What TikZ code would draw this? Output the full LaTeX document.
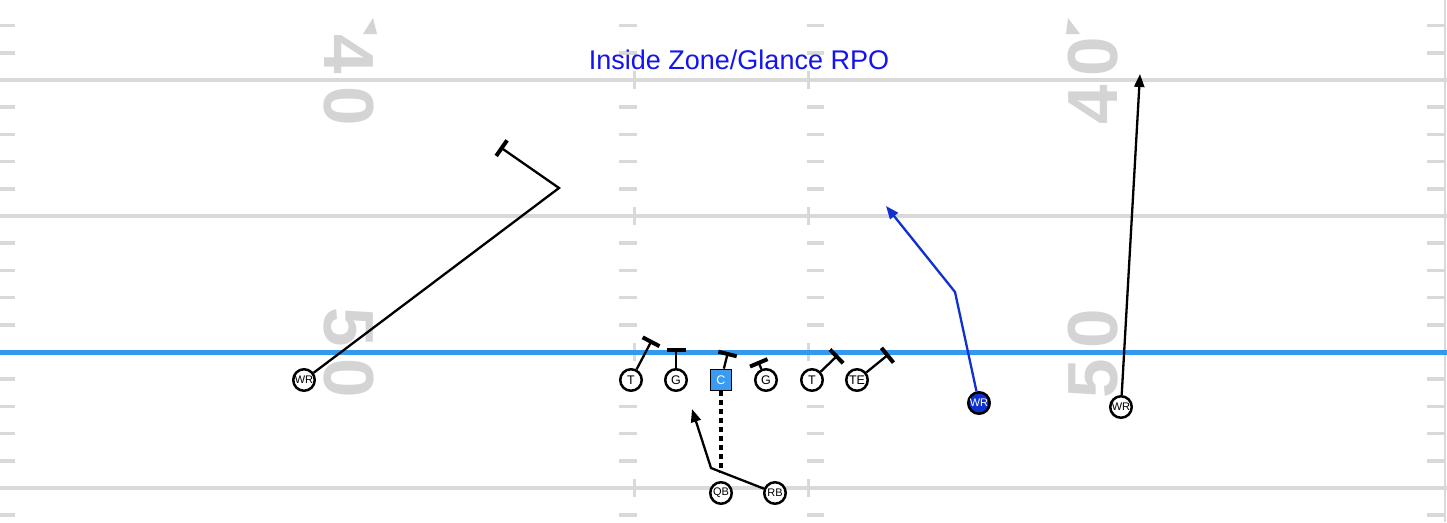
\documentclass[tikz,border=0pt]{standalone}
\usepackage{fontspec}
\setmainfont{Liberation Sans}
\usetikzlibrary{arrows.meta}

\definecolor{fieldgray}{HTML}{D9D9D9}
\definecolor{numgray}{HTML}{D4D4D4}
\definecolor{losblue}{HTML}{3399EE}
\definecolor{centerblue}{HTML}{3A9BF0}
\definecolor{routeblue}{HTML}{1030D0}
\definecolor{titleblue}{HTML}{1414F0}

\begin{document}
\begin{tikzpicture}[x=1pt, y=-1pt, >={Triangle[length=13pt,width=10pt]},
    player/.style={circle, draw, line width=2.5pt, fill=white, minimum size=21.5pt, inner sep=0pt, font=\fontsize{12.5}{12.5}\selectfont},
    wr/.style={player, font=\fontsize{11}{11}\selectfont},
    snapper/.style={rectangle, draw, line width=1.8pt, fill=centerblue, text=white, minimum size=21pt, inner sep=0pt, font=\fontsize{12.5}{12.5}\selectfont},
    route/.style={line width=2.3pt},
    block/.style={line width=2.3pt, -{Bar[width=19pt,line width=4pt]}},
    hash/.style={fieldgray, line width=3.5pt},
    yardline/.style={fieldgray, line width=3.5pt},
    yardnum/.style={text=numgray, font=\fontsize{71}{71}\selectfont\bfseries, inner sep=0pt}]

    \useasboundingbox (0,0) rectangle (1447,522);
    \fill[white] (0,0) rectangle (1447,522);

    %define the field
    \foreach \k in {0,...,19}{
        \pgfmathtruncatemacro\r{mod(\k,5)}
        \ifnum\r=3\else
            \draw[hash] (0,{-1.6+27.2*\k}) -- ++(15,0);
            \draw[hash] (1427,{-1.6+27.2*\k}) -- ++(18,0);
            \draw[hash] (619,{-1.6+27.2*\k}) -- ++(18,0);
            \draw[hash] (807,{-1.6+27.2*\k}) -- ++(17,0);
        \fi
    }
    \foreach \yl in {80,216,352,488}{
        \draw[yardline] (0,\yl) -- (1447,\yl);
        \draw[fieldgray, line width=3pt] (634,\yl-9) -- (634,\yl+9);
        \draw[fieldgray, line width=3pt] (808,\yl-9) -- (808,\yl+9);
    }
    \draw[fieldgray, line width=2pt] (1445,0) -- (1445,522);
    \draw[losblue, line width=5pt] (0,352) -- (1447,352);

    %define the yard numbers
    \node[yardnum, rotate=-90] (l4) at (349,54) {4};
    \node[yardnum, rotate=-90] (l40) at (349,106) {0};
    \node[yardnum, rotate=-90] (l5) at (349,327) {5};
    \node[yardnum, rotate=-90] (l50) at (349,378) {0};
    \node[yardnum, rotate=90] (r40) at (1093,57) {0};
    \node[yardnum, rotate=90] (r4) at (1093,105) {4};
    \node[yardnum, rotate=90] (r50) at (1093,329) {0};
    \node[yardnum, rotate=90] (r5) at (1093,379) {5};
    \fill[numgray] (373,18) -- (363,34) -- (377,34) -- cycle;
    \fill[numgray] (1068,18) -- (1066,34) -- (1080,34) -- cycle;

    \node[text=titleblue, font=\fontsize{27}{29}\selectfont] (title) at (739,60) {Inside Zone/Glance RPO};

    %define the players
    \node[player] (lt) at (631,380) {T};
    \node[player] (lg) at (676,380) {G};
    \node[snapper] (c) at (721,380) {C};
    \node[player] (rg) at (766,380) {G};
    \node[player] (rt) at (812,380) {T};
    \node[player] (te) at (857,380) {TE};
    \node[wr] (qb) at (721,493) {QB};
    \node[wr] (rb) at (775,493) {RB};
    \node[wr] (wrl) at (304,380) {WR};
    \node[wr, fill=routeblue, text=white] (wrs) at (979,403) {WR};
    \node[wr] (wrr) at (1121,407) {WR};

    %define the blocks
    \coordinate (blt) at (652,340);
    \coordinate (blg) at (676,348);
    \coordinate (bc) at (728,352);
    \coordinate (brg) at (758,361);
    \coordinate (brt) at (838,355);
    \coordinate (bte) at (889,354);
    \draw[block] (lt) -- (blt);
    \draw[block] (lg) -- (blg);
    \draw[block] (c) -- (bc);
    \draw[block] (rg) -- (brg);
    \draw[block] (rt) -- (brt);
    \draw[block] (te) -- (bte);

    %define the routes
    \coordinate (wrlbreak) at (559,188);
    \coordinate (wrlend) at (500,147);
    \coordinate (wrsbreak) at (955,292);
    \coordinate (wrsend) at (886,206);
    \coordinate (wrrend) at (1140,74);
    \coordinate (rbmesh) at (711,468);
    \coordinate (rbend) at (692,409);
    \coordinate (snap) at (721,473);
    \draw[route, -{Bar[width=19pt,line width=4pt]}] (wrl) -- (wrlbreak) -- (wrlend);
    \draw[route, routeblue, ->] (wrs) -- (wrsbreak) -- (wrsend);
    \draw[route, ->] (wrr) -- (wrrend);
    \draw[route, ->] (rb) -- (rbmesh) -- (rbend);
    \draw[line width=4.5pt, dash pattern=on 5pt off 4pt] (c) -- (snap);
\end{tikzpicture}
\end{document}
